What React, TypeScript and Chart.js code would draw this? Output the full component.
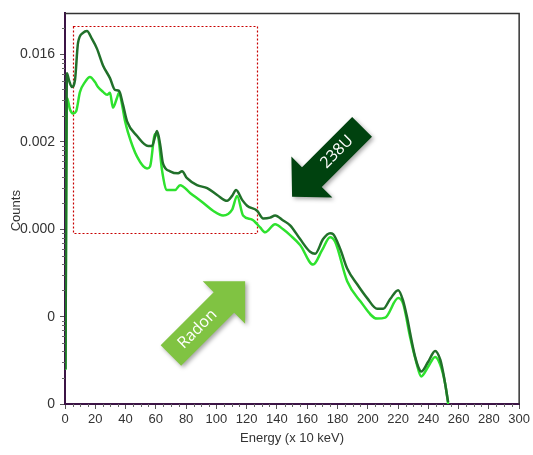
import { useEffect, useRef } from "react";
import { Chart, registerables } from "chart.js";

Chart.register(...registerables);

// 238U spectrum (energy in x10 keV, counts)
const U_ENERGY = [0.3, 1.3, 2.6, 4.6, 6.6, 8.6, 11.9, 14.5, 17.8, 21.1, 25.1, 29.7, 33.0, 35.7, 38.3, 41.0, 47.6, 54.9, 57.5, 60.8, 62.8, 64.7, 69.4, 74.7, 77.3, 80.6, 87.2, 93.9, 100.5, 107.1, 110.4, 113.0, 117.0, 120.3, 126.9, 130.9, 135.5, 138.8, 144.1, 148.7, 155.3, 161.9, 165.2, 170.5, 175.1, 177.1, 181.8, 186.4, 193.0, 199.6, 206.2, 210.2, 214.8, 220.1, 223.4, 226.0, 228.0, 231.3, 233.3, 235.3, 239.9, 244.5, 247.9, 249.8, 253.1];
const U_COUNTS = [2.5e-6, 6.12e-3, 5.11e-3, 4.26e-3, 5.11e-3, 1.36e-2, 1.77e-2, 1.86e-2, 1.51e-2, 1.17e-2, 7.52e-3, 5.37e-3, 3.94e-3, 3.84e-3, 2.67e-3, 1.72e-3, 1.17e-3, 9.0e-4, 9.0e-4, 1.33e-3, 9.5e-4, 5.67e-4, 4.61e-4, 4.37e-4, 4.61e-4, 3.84e-4, 3.20e-4, 2.96e-4, 2.47e-4, 2.12e-4, 2.41e-4, 2.81e-4, 2.17e-4, 1.86e-4, 1.63e-4, 1.33e-4, 1.36e-4, 1.44e-4, 1.26e-4, 1.11e-4, 7.72e-5, 5.52e-5, 5.24e-5, 7.72e-5, 9.02e-5, 8.79e-5, 5.96e-5, 3.56e-5, 2.35e-5, 1.63e-5, 1.23e-5, 1.23e-5, 1.59e-5, 2.01e-5, 1.51e-5, 9.75e-6, 6.44e-6, 3.46e-6, 2.67e-6, 2.35e-6, 3.04e-6, 4.05e-6, 3.21e-6, 2.29e-6, 1.05e-6];

// Radon spectrum
const RN_ENERGY = [0.3, 1.3, 3.3, 5.3, 7.3, 9.9, 13.2, 16.5, 19.8, 21.8, 25.1, 27.8, 29.7, 31.7, 34.4, 35.7, 37.7, 39.7, 41.6, 47.6, 54.2, 56.2, 59.5, 61.5, 64.1, 67.4, 72.7, 76.0, 82.6, 91.2, 97.8, 104.4, 110.4, 113.7, 117.6, 123.6, 128.9, 132.2, 138.8, 144.1, 148.7, 155.3, 163.9, 169.9, 175.1, 178.5, 186.4, 195.0, 206.2, 211.5, 220.1, 223.4, 228.0, 232.0, 235.3, 239.9, 244.5, 247.9, 251.2, 253.1];
const RN_COUNTS = [2.47e-6, 3.21e-3, 2.35e-3, 2.12e-3, 2.23e-3, 3.74e-3, 4.84e-3, 5.52e-3, 4.84e-3, 4.26e-3, 3.74e-3, 3.46e-3, 3.65e-3, 2.47e-3, 3.21e-3, 3.65e-3, 2.67e-3, 1.72e-3, 1.29e-3, 6.78e-4, 4.97e-4, 5.24e-4, 1.23e-3, 1.14e-3, 4.72e-4, 2.81e-4, 2.81e-4, 3.20e-4, 2.61e-4, 2.01e-4, 1.63e-4, 1.44e-4, 1.68e-4, 2.41e-4, 1.44e-4, 1.29e-4, 1.05e-4, 9.24e-5, 1.14e-4, 1.0e-4, 8.57e-5, 6.61e-5, 3.94e-5, 5.81e-5, 8.13e-5, 7.14e-5, 2.54e-5, 1.51e-5, 9.5e-6, 9.75e-6, 1.63e-5, 1.40e-5, 5.81e-6, 3.04e-6, 2.07e-6, 2.67e-6, 3.46e-6, 2.81e-6, 1.68e-6, 1.0e-6];

const Y_TICK_VALUES = [1e-6, 1e-5, 1e-4, 1e-3, 1e-2];
const Y_TICK_LABELS = ["0", "0", "0.000", "0.002", "0.016"];
const Y_MIN = 1e-6;
const Y_MAX = 0.0296;
const X_MIN = 0;
const X_MAX = 300;

// dotted region of interest (data coords)
const ROI_X = [5.3, 126.9];
const ROI_Y = [9.0e-5, 0.0212];

// arrow annotations: tip in data coords
const ARROW_U_TIP = [150, 2.35e-4];
const ARROW_RN_TIP = [119, 2.54e-5];

const FONT = "'Liberation Sans', Arial, sans-serif";

function drawArrow(ctx: CanvasRenderingContext2D, tipX: number, tipY: number, ux: number, uy: number, L: number, H: number, HW: number, BW: number, color: string, text: string) {
  const px = -uy, py = ux;
  const bx = tipX + ux * H, by = tipY + uy * H;
  const tx = tipX + ux * L, ty = tipY + uy * L;
  ctx.save();
  ctx.shadowColor = "rgba(0,0,0,0.35)";
  ctx.shadowBlur = 4;
  ctx.shadowOffsetX = 2;
  ctx.shadowOffsetY = 2;
  ctx.beginPath();
  ctx.moveTo(tipX, tipY);
  ctx.lineTo(bx + px * HW, by + py * HW);
  ctx.lineTo(bx + px * BW, by + py * BW);
  ctx.lineTo(tx + px * BW, ty + py * BW);
  ctx.lineTo(tx - px * BW, ty - py * BW);
  ctx.lineTo(bx - px * BW, by - py * BW);
  ctx.lineTo(bx - px * HW, by - py * HW);
  ctx.closePath();
  ctx.fillStyle = color;
  ctx.fill();
  ctx.restore();
  ctx.save();
  const m = (H + L) / 2;
  ctx.translate(tipX + ux * m, tipY + uy * m);
  ctx.rotate(-Math.PI / 4);
  ctx.fillStyle = "#ffffff";
  ctx.font = "16px 'Open Sans', sans-serif";
  ctx.textAlign = "center";
  ctx.textBaseline = "middle";
  ctx.fillText(text, 0, 0);
  ctx.restore();
}

const decorPlugin = {
  id: "decor",
  beforeDatasetsDraw(chart: any) {
    const { ctx, scales } = chart;
    const x = scales.x, y = scales.y;
    const x0 = x.getPixelForValue(ROI_X[0]), x1 = x.getPixelForValue(ROI_X[1]);
    const y0 = y.getPixelForValue(ROI_Y[1]), y1 = y.getPixelForValue(ROI_Y[0]);
    ctx.save();
    ctx.strokeStyle = "#c80000";
    ctx.lineWidth = 1.2;
    ctx.setLineDash([2, 2]);
    ctx.strokeRect(Math.round(x0) + 0.5, Math.round(y0) + 0.5, Math.round(x1 - x0), Math.round(y1 - y0));
    ctx.restore();
  },
  afterDraw(chart: any) {
    const { ctx, scales, chartArea } = chart;
    const x = scales.x, y = scales.y;
    ctx.save();
    // top / right frame
    ctx.strokeStyle = "#333333";
    ctx.lineWidth = 1.5;
    ctx.beginPath();
    ctx.moveTo(chartArea.left, chartArea.top);
    ctx.lineTo(chartArea.right, chartArea.top);
    ctx.lineTo(chartArea.right, chartArea.bottom);
    ctx.stroke();
    // minor ticks
    ctx.strokeStyle = "#666666";
    ctx.lineWidth = 1;
    ctx.beginPath();
    for (let v = X_MIN; v <= X_MAX; v += 5) {
      if (v % 20 === 0) continue;
      const p = Math.round(x.getPixelForValue(v)) + 0.5;
      ctx.moveTo(p, chartArea.bottom);
      ctx.lineTo(p, chartArea.bottom + 3);
    }
    for (let d = -6; d <= -2; d++) {
      for (let m = 2; m <= 9; m++) {
        const v = m * Math.pow(10, d);
        if (v < Y_MIN || v > Y_MAX) continue;
        const p = Math.round(y.getPixelForValue(v)) + 0.5;
        ctx.moveTo(chartArea.left - 3, p);
        ctx.lineTo(chartArea.left, p);
      }
    }
    ctx.stroke();
    // y title
    ctx.translate(16, (chartArea.top + chartArea.bottom) / 2 + 2);
    ctx.rotate(-Math.PI / 2);
    ctx.fillStyle = "#333333";
    ctx.font = "13px " + FONT;
    ctx.textAlign = "center";
    ctx.textBaseline = "middle";
    ctx.fillText("Counts", 0, 0);
    ctx.restore();

    // arrows
    const s = Math.SQRT1_2;
    drawArrow(ctx, x.getPixelForValue(ARROW_U_TIP[0]), y.getPixelForValue(ARROW_U_TIP[1]), s, -s, 99, 28, 29, 14, "#00420f", "238U");
    drawArrow(ctx, x.getPixelForValue(ARROW_RN_TIP[0]), y.getPixelForValue(ARROW_RN_TIP[1]), -s, s, 105, 30, 30, 14.5, "#80c342", "Radon");
  },
};

export default function App() {
  const ref = useRef<HTMLCanvasElement | null>(null);
  useEffect(() => {
    document.body.style.margin = "0";
    const canvas = ref.current;
    if (!canvas) return;
    const chart = new Chart(canvas, {
      type: "line",
      data: {
        datasets: [
          {
            label: "238U",
            data: U_ENERGY.map((e, i) => ({ x: e, y: U_COUNTS[i] })),
            borderColor: "#21702a",
            borderWidth: 2.5,
            pointRadius: 0,
            fill: false,
            cubicInterpolationMode: "monotone",
          },
          {
            label: "Radon",
            data: RN_ENERGY.map((e, i) => ({ x: e, y: RN_COUNTS[i] })),
            borderColor: "#2ee22e",
            borderWidth: 2.5,
            pointRadius: 0,
            fill: false,
            cubicInterpolationMode: "monotone",
          },
        ],
      },
      options: {
        animation: false,
        responsive: false,
        maintainAspectRatio: false,
        layout: { padding: { top: 7, right: 13, left: 0, bottom: 0 } },
        plugins: { legend: { display: false }, tooltip: { enabled: false }, title: { display: false } },
        scales: {
          x: {
            type: "linear",
            min: X_MIN,
            max: X_MAX,
            afterFit: (s: any) => { s.height = 51; },
            ticks: { stepSize: 20, color: "#333333", font: { family: FONT, size: 13 }, padding: 3, maxRotation: 0, autoSkip: false },
            grid: { display: true, drawOnChartArea: false, drawTicks: true, tickLength: 5, color: "#555555" },
            border: { display: true, color: "#3c1446", width: 2 },
            title: { display: true, text: "Energy (x 10 keV)", color: "#333333", font: { family: FONT, size: 13 }, padding: { top: 0, bottom: 9 } },
          },
          y: {
            type: "logarithmic",
            min: Y_MIN,
            max: Y_MAX,
            afterFit: (s: any) => { s.width = 65; },
            afterBuildTicks: (s: any) => { s.ticks = Y_TICK_VALUES.map((v) => ({ value: v, major: true })); },
            ticks: {
              color: "#333333",
              font: { family: FONT, size: 14 },
              padding: 5,
              autoSkip: false,
              callback: (_v: any, i: number) => Y_TICK_LABELS[i],
            },
            grid: { display: true, drawOnChartArea: false, drawTicks: true, tickLength: 5, color: "#555555" },
            border: { display: true, color: "#3c1446", width: 2 },
          },
        },
      },
      plugins: [decorPlugin],
    } as any);
    return () => chart.destroy();
  }, []);
  return (
    <div style={{ width: 533, height: 455, position: "relative", background: "#fff" }}>
      <canvas ref={ref} width={533} height={455} style={{ display: "block" }} />
    </div>
  );
}
